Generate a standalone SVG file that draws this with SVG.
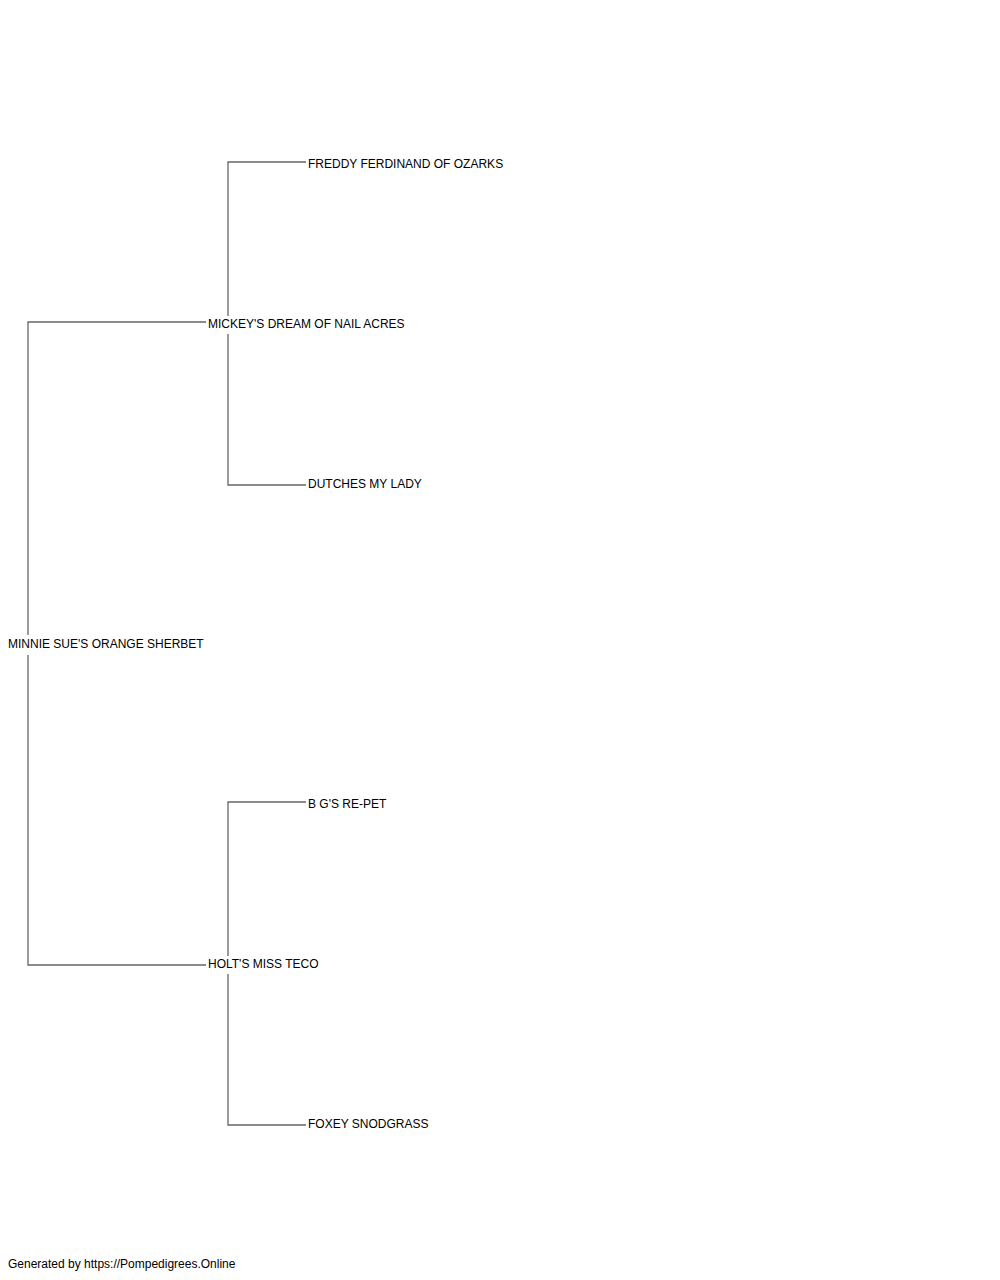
<svg xmlns="http://www.w3.org/2000/svg" width="1000" height="1280" viewBox="0 0 1000 1280">
<style>
.t{font-family:"Liberation Sans",Arial,sans-serif;font-size:12px;fill:#000}
.c{stroke:#666;stroke-width:1.3;fill:none}
</style>
<rect width="1000" height="1280" fill="#fff"/>
<g id="connectors">
<path class="c" d="M28,635 V322 H206"/>
<path class="c" d="M28,655 V965 H206"/>
<path class="c" d="M228,316 V162 H306"/>
<path class="c" d="M228,334 V485 H306"/>
<path class="c" d="M228,956 V802 H306"/>
<path class="c" d="M228,974 V1125 H306"/>
</g>
<g id="n-root"><text class="t" x="8" y="648">MINNIE SUE'S ORANGE SHERBET</text></g>
<g id="n-sire"><text class="t" x="208" y="328">MICKEY'S DREAM OF NAIL ACRES</text></g>
<g id="n-dam"><text class="t" x="208" y="968">HOLT'S MISS TECO</text></g>
<g id="n-ss"><text class="t" x="308" y="168">FREDDY FERDINAND OF OZARKS</text></g>
<g id="n-sd"><text class="t" x="308" y="488">DUTCHES MY LADY</text></g>
<g id="n-ds"><text class="t" x="308" y="808">B G'S RE-PET</text></g>
<g id="n-dd"><text class="t" x="308" y="1128">FOXEY SNODGRASS</text></g>
<g id="footer"><text class="t" x="8" y="1268">Generated by https://Pompedigrees.Online</text></g>
</svg>
